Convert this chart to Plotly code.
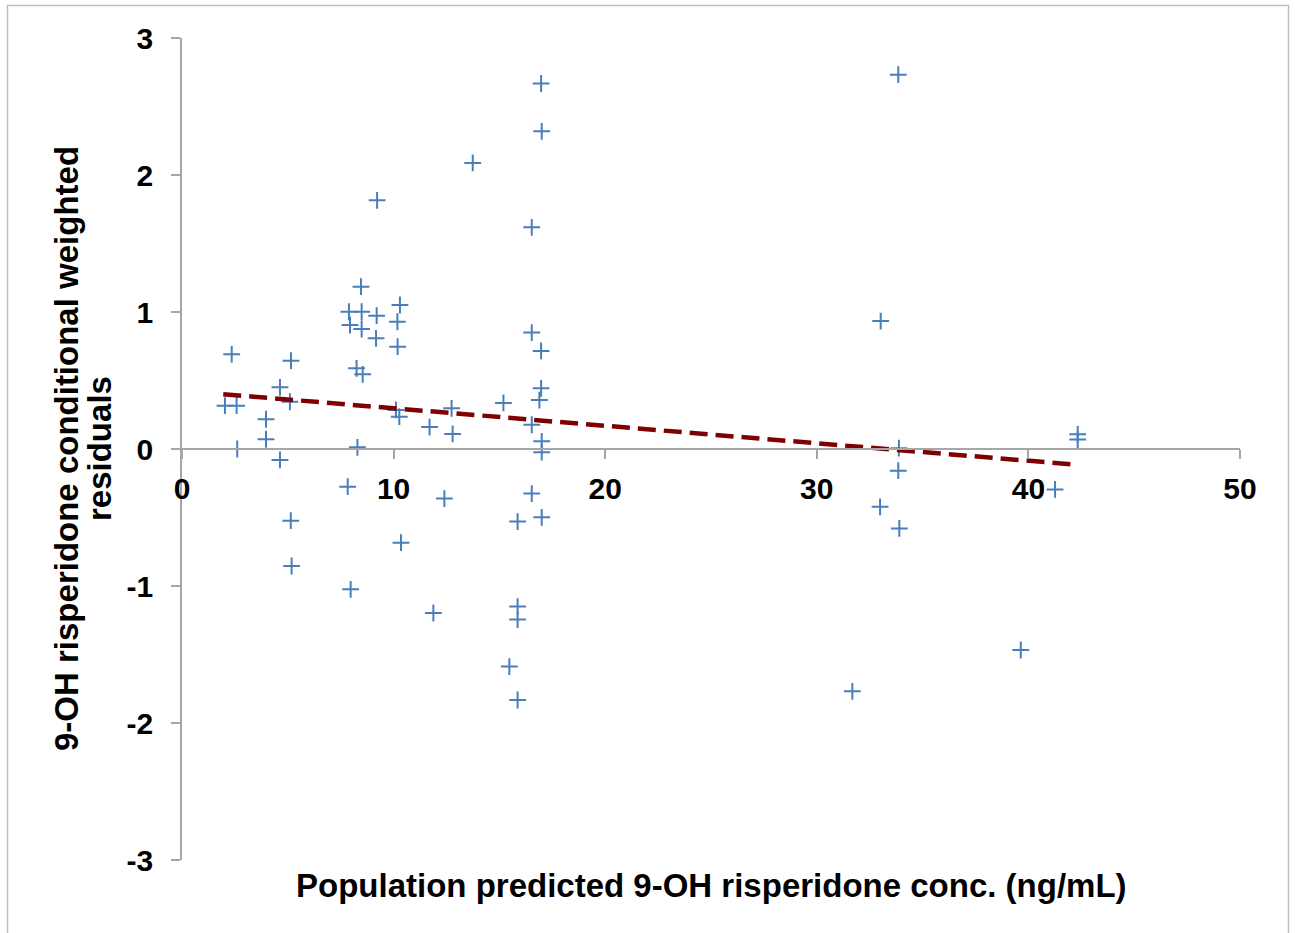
import plotly.graph_objects as go

# Population predicted 9-OH risperidone conc. (ng/mL)
pred_conc = [8.46, 7.89, 8.49, 9.20, 10.30, 7.94, 8.49, 10.18, 9.17, 10.19,
             2.35, 5.15, 8.25, 8.54, 4.63, 2.03, 2.58, 5.10, 3.97, 3.97,
             2.61, 4.63, 8.29, 10.11, 10.27, 11.70, 12.74, 12.79, 7.83, 12.40,
             5.14, 10.35, 5.18, 7.97, 9.22,
             16.97, 17.00, 13.74, 16.53, 16.53, 16.97, 16.97, 16.89, 15.19, 16.53,
             17.00, 17.00, 16.53, 15.86, 17.00, 11.88, 15.86, 15.86, 15.47, 15.86,
             33.85, 33.02, 33.88, 33.85, 32.99, 33.90, 42.33, 42.33, 41.26, 39.64, 31.68]
# Conditional weighted residuals
cwres = [1.185, 1.002, 1.002, 0.973, 1.051, 0.905, 0.876, 0.929, 0.808, 0.747,
         0.691, 0.645, 0.589, 0.545, 0.450, 0.316, 0.316, 0.345, 0.217, 0.071,
         0.000, -0.080, 0.012, 0.285, 0.236, 0.160, 0.297, 0.110, -0.275, -0.362,
         -0.523, -0.684, -0.854, -1.024, 1.815,
         2.668, 2.319, 2.088, 1.618, 0.850, 0.716, 0.443, 0.357, 0.336, 0.177,
         0.056, -0.023, -0.325, -0.530, -0.499, -1.197, -1.150, -1.245, -1.588, -1.832,
         2.732, 0.934, 0.006, -0.158, -0.422, -0.580, 0.107, 0.069, -0.295, -1.467, -1.769]

# Linear trend line end points
trend_x = [1.95, 42.2]
trend_y = [0.40, -0.114]

x_ticks = [0, 10, 20, 30, 40, 50]
y_ticks = [-3, -2, -1, 0, 1, 2, 3]

x_title = "Population predicted 9-OH risperidone conc. (ng/mL)"
y_title_lines = ["9-OH risperidone conditional weighted", "residuals"]

FONT = "Liberation Sans, Arial, sans-serif"
AXIS_GRAY = "#A6A6A6"
PW, PH, L, T = 1058, 822, 182, 38

fig = go.Figure()
fig.add_trace(go.Scatter(
    x=pred_conc, y=cwres, mode="markers",
    marker=dict(symbol="cross-thin", size=12, color="#4A7EBB",
                line=dict(color="#4A7EBB", width=2)),
    showlegend=False, hoverinfo="x+y"))
fig.add_trace(go.Scatter(
    x=trend_x, y=trend_y, mode="lines",
    line=dict(color="#7F0000", width=4.5, dash="18px,8px"),
    showlegend=False, hoverinfo="skip"))

title_font = dict(family=FONT, size=33, weight="bold", color="black")
tick_font = dict(family=FONT, size=30, weight="bold", color="black")

fig.update_layout(
    width=1295, height=933,
    margin=dict(l=L, r=1295 - L - PW, t=T, b=933 - T - PH),
    paper_bgcolor="white", plot_bgcolor="white",
    font=dict(family=FONT, color="black"),
    xaxis=dict(range=[0, 50], tickvals=x_ticks, ticktext=[str(v) for v in x_ticks],
               showgrid=False, zeroline=False,
               showline=True, linecolor=AXIS_GRAY, linewidth=1.5,
               ticks="outside", ticklen=9, tickwidth=1.5, tickcolor=AXIS_GRAY,
               anchor="free", position=0.5, ticklabelstandoff=4,
               tickfont=tick_font),
    yaxis=dict(range=[-3, 3], tickvals=y_ticks, ticktext=[str(v) for v in y_ticks],
               showgrid=False, zeroline=False,
               showline=True, linecolor=AXIS_GRAY, linewidth=1.5,
               ticks="outside", ticklen=9, tickwidth=1.5, tickcolor=AXIS_GRAY,
               ticklabelstandoff=12,
               tickfont=tick_font),
    annotations=[
        dict(text=x_title, xref="paper", yref="paper", x=0.5, y=(T + PH - 885) / PH,
             xanchor="center", yanchor="middle", showarrow=False, font=title_font),
        dict(text=y_title_lines[0], xref="paper", yref="paper", x=(66 - L) / PW, y=0.5,
             xanchor="center", yanchor="middle", showarrow=False, textangle=-90,
             font=title_font),
        dict(text=y_title_lines[1], xref="paper", yref="paper", x=(99 - L) / PW, y=0.5,
             xanchor="center", yanchor="middle", showarrow=False, textangle=-90,
             font=title_font),
    ],
    shapes=[dict(type="rect", xref="paper", yref="paper",
                 x0=(7.5 - L) / PW, x1=(1288.5 - L) / PW,
                 y0=(T + PH - 945) / PH, y1=(T + PH - 5.5) / PH,
                 line=dict(color="#BFBFBF", width=1.5), fillcolor="rgba(0,0,0,0)",
                 layer="below")],
)

fig.write_html("out.html", config={"displayModeBar": False},
               post_script="document.body.style.margin='0';")
